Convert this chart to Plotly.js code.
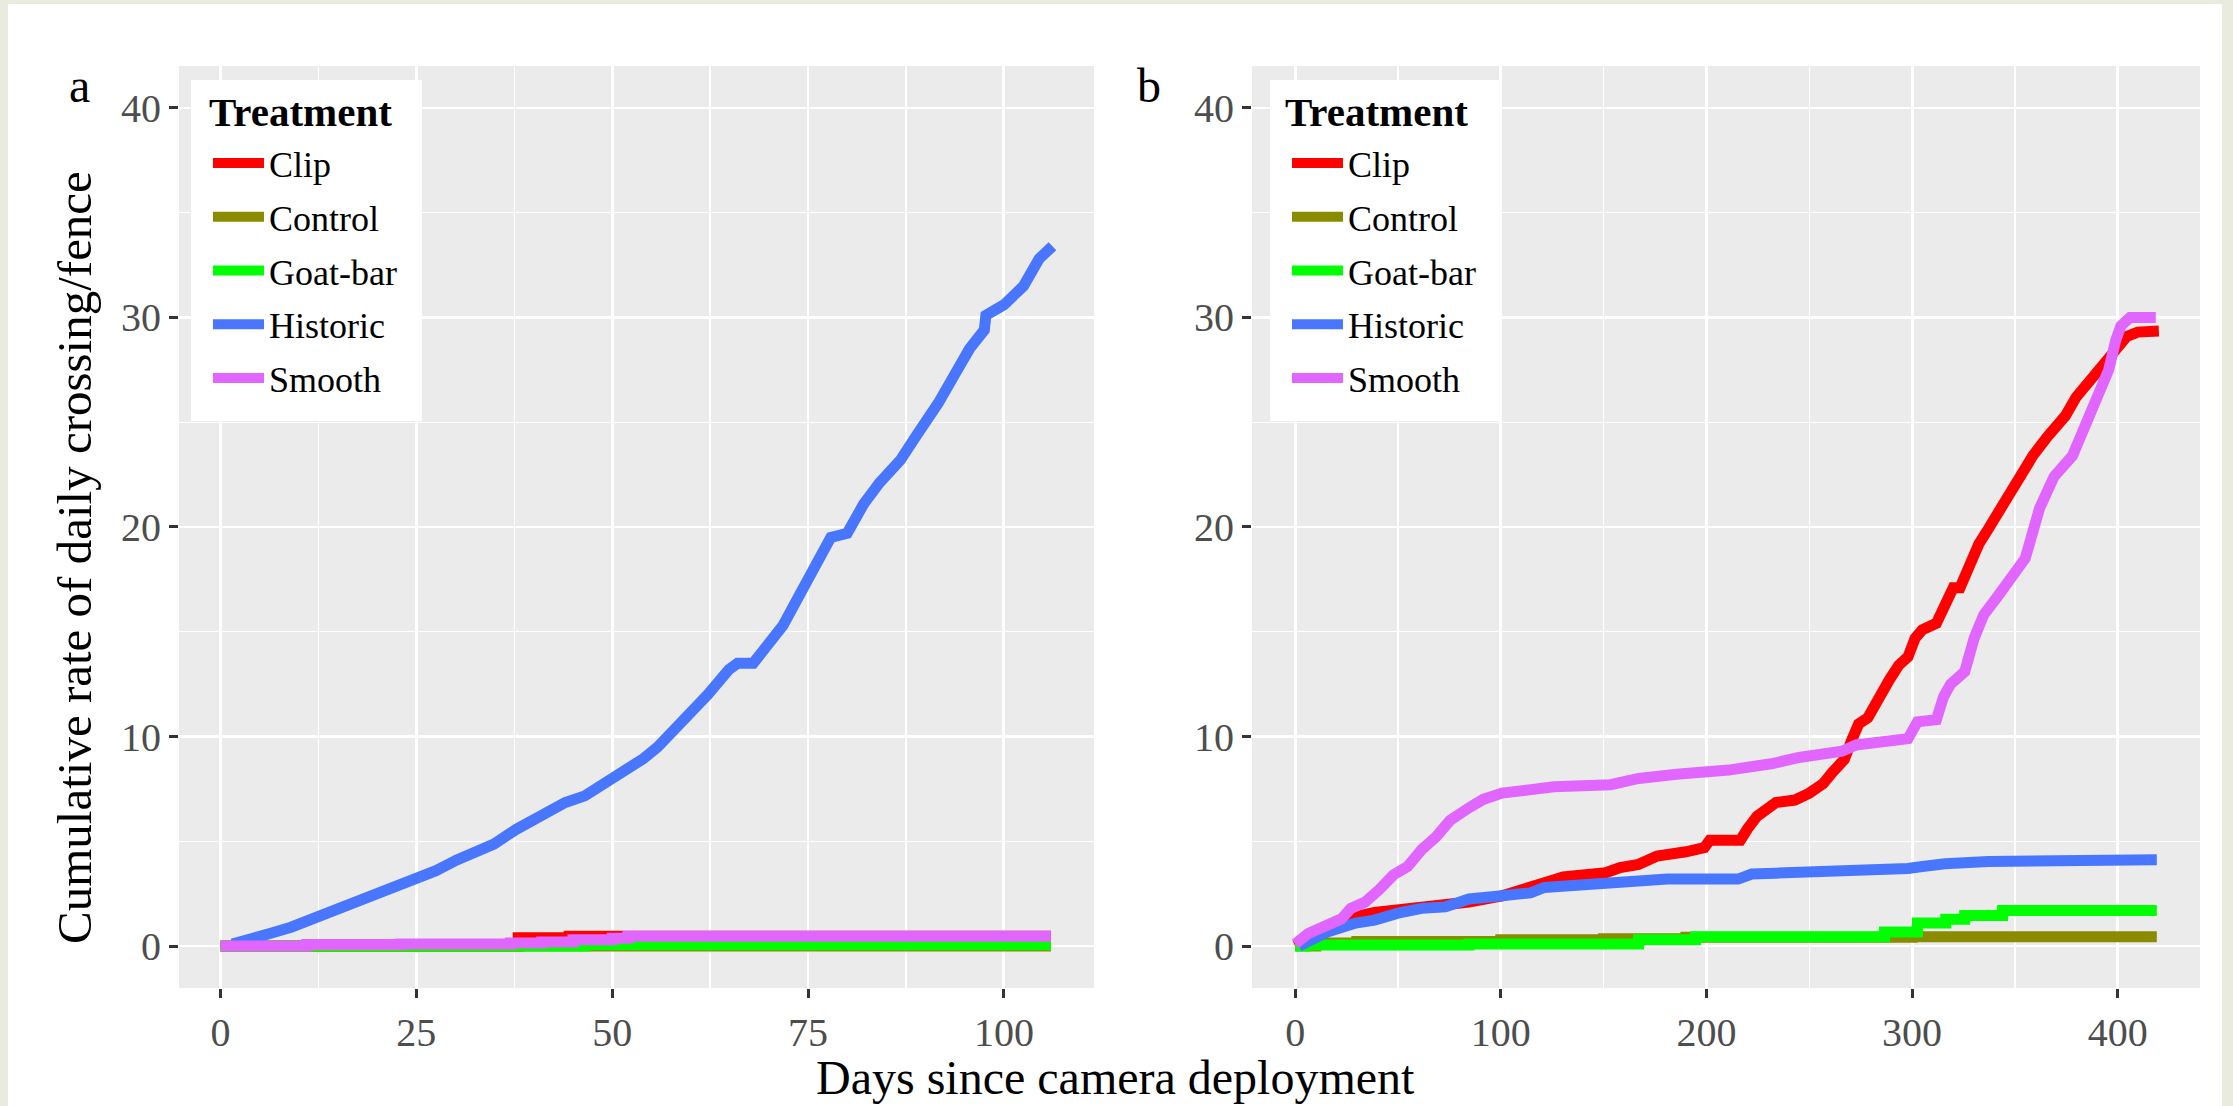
<!DOCTYPE html>
<html>
<head>
<meta charset="utf-8">
<script src="https://cdn.plot.ly/plotly-3.0.1.min.js"></script>
<style>
html,body{margin:0;padding:0;background:#e9ebdf;width:2233px;height:1106px;overflow:hidden}
#chart{position:absolute;left:8px;top:4px;width:2214px;height:1102px;background:#ffffff}
</style>
</head>
<body>
<div id="chart"></div>
<script>
// ---------- categories & colours ----------
const treatments = ['Clip', 'Control', 'Goat-bar', 'Historic', 'Smooth'];
const treatmentColors = ['#ff0000', '#8b8b00', '#00ff00', '#4876ff', '#e066ff'];
const legendTitle = 'Treatment';

// ---------- panel a (days 0-106) ----------
const aClipDays = [0, 38, 44.5, 106];
const aClipRate = [0, 0.4, 0.47, 0.47];
const aControlDays = [0, 106];
const aControlRate = [0, 0];
const aGoatDays = [0, 46.5, 106];
const aGoatRate = [0, 0.06, 0.06];
const aHistoricDays = [1.5, 4, 6.3, 9, 12.4, 15, 17.2, 20, 22.5, 25, 27.5, 30.1, 32.5, 34.9, 37.7, 39.8, 41.8, 44, 46.5, 48, 50, 52, 54, 55.8, 57.4, 59.5, 62.2, 64.9, 66, 68, 70.4, 71.8, 73.1, 75, 76.2, 77.9, 80, 81, 82.1, 84.1, 85.5, 86.8, 88.9, 90.2, 91.6, 93.6, 95.6, 97.5, 97.7, 100, 101.2, 102.5, 104.5, 105.9, 106.2];
const aHistoricRate = [0.1, 0.3, 0.6, 0.9, 1.4, 1.75, 2.07, 2.5, 2.8, 3.16, 3.6, 4.1, 4.5, 4.87, 5.56, 6.0, 6.48, 6.85, 7.17, 7.5, 8.06, 8.5, 8.95, 9.5, 10.1, 11.0, 12.0, 13.2, 13.5, 13.5, 14.6, 15.3, 16.2, 17.6, 18.5, 19.5, 19.7, 20.5, 21.1, 22.1, 22.7, 23.2, 24.4, 25.1, 25.9, 27.2, 28.5, 29.4, 30.1, 30.6, 31.0, 31.5, 32.8, 33.4, 33.4];
const aSmoothDays = [0, 11, 23, 37, 41, 45, 50, 52, 106];
const aSmoothRate = [0, 0.07, 0.1, 0.15, 0.2, 0.3, 0.38, 0.47, 0.47];

// ---------- panel b (days 0-420) ----------
const bClipDays = [0, 15.6, 27, 38.6, 57, 75.3, 84.5, 100.6, 116.6, 130.4, 151, 158, 167, 176, 190, 199, 201.6, 216.5, 220, 224.6, 233.8, 243, 250, 256.7, 261.3, 267, 270.5, 274, 278.5, 283, 288.9, 293.5, 298, 301.5, 305, 311.8, 316.4, 320, 323.3, 327.9, 332.5, 337, 344.5, 351.6, 358.7, 365.7, 374.5, 379.8, 386.8, 392, 397.4, 404.5, 409.7, 420];
const bClipRate = [0, 0.8, 1.35, 1.6, 1.8, 1.9, 2.1, 2.4, 2.9, 3.3, 3.5, 3.75, 3.9, 4.3, 4.5, 4.7, 5.05, 5.05, 5.6, 6.2, 6.85, 6.97, 7.3, 7.75, 8.3, 8.9, 9.8, 10.6, 10.9, 11.8, 12.7, 13.4, 13.8, 14.7, 15.1, 15.4, 16.4, 17.1, 17.1, 18.3, 19.2, 19.9, 21.2, 22.4, 23.4, 24.3, 25.3, 26.2, 27.0, 27.5, 28.2, 29.1, 29.3, 29.35];
const bControlDays = [0, 10, 30, 100, 150, 190, 300, 419];
const bControlRate = [0, 0.15, 0.22, 0.3, 0.35, 0.42, 0.45, 0.45];
const bGoatDays = [0, 5, 84.5, 167, 194.7, 286.6, 302.6, 316.4, 325.6, 344, 419];
const bGoatRate = [0, 0.05, 0.1, 0.3, 0.45, 0.67, 1.1, 1.28, 1.46, 1.7, 1.7];
const bHistoricDays = [1.8, 15.6, 29.4, 38.6, 50, 61.5, 73, 84.5, 100.6, 114.4, 121.2, 135, 153.4, 167, 181, 215.4, 222, 233.8, 261.3, 268, 298, 305, 316, 337, 360, 419];
const bHistoricRate = [0, 0.67, 1.1, 1.24, 1.57, 1.8, 1.87, 2.25, 2.4, 2.54, 2.8, 2.9, 2.97, 3.15, 3.2, 3.2, 3.44, 3.48, 3.53, 3.6, 3.7, 3.8, 3.93, 4.04, 4.08, 4.12];
const bSmoothDays = [0, 6.4, 15.6, 22.5, 27.1, 34, 40.9, 47.8, 54.7, 61.5, 68.4, 75.3, 84.5, 91.4, 100.6, 125.8, 153.4, 167, 185.5, 210.8, 231.5, 245, 265.9, 272.8, 298, 302.6, 311.8, 315.3, 318.7, 325.6, 330.2, 334.8, 341.7, 350.9, 355, 362, 369, 378, 383.5, 390, 395.6, 399, 401.5, 406, 418.5];
const bSmoothRate = [0.1, 0.6, 1.0, 1.3, 1.8, 2.1, 2.7, 3.4, 3.8, 4.6, 5.2, 6.0, 6.6, 7.0, 7.3, 7.6, 7.7, 8.0, 8.2, 8.4, 8.7, 9.0, 9.3, 9.6, 9.9, 10.7, 10.8, 11.9, 12.5, 13.1, 14.7, 15.8, 16.7, 17.9, 18.5, 20.9, 22.4, 23.4, 24.6, 26.3, 27.5, 28.9, 29.6, 30.0, 30.0];

// ---------- tick values ----------
const aTicks = [0, 25, 50, 75, 100];
const bTicks = [0, 100, 200, 300, 400];
const yTicks = [0, 10, 20, 30, 40];

// [days, rates, line shape]
const panelA = [[aClipDays, aClipRate, 'hv'], [aControlDays, aControlRate, 'hv'], [aGoatDays, aGoatRate, 'hv'], [aHistoricDays, aHistoricRate, 'linear'], [aSmoothDays, aSmoothRate, 'hv']];
const panelB = [[bClipDays, bClipRate, 'linear'], [bControlDays, bControlRate, 'hv'], [bGoatDays, bGoatRate, 'hv'], [bHistoricDays, bHistoricRate, 'linear'], [bSmoothDays, bSmoothRate, 'linear']];

const FONT = 'Liberation Serif, Times New Roman, serif';
const traces = [];
function addPanel(series, xa, ya, leg) {
  series.forEach(function (s, i) {
    traces.push({
      type: 'scatter', mode: 'lines',
      x: s[0], y: s[1],
      name: treatments[i],
      legend: leg,
      legendgroup: treatments[i],
      line: {color: treatmentColors[i], width: 11, shape: s[2]},
      xaxis: xa, yaxis: ya,
      hoverinfo: 'skip'
    });
  });
}
addPanel(panelA, 'x', 'y', 'legend');
addPanel(panelB, 'x2', 'y2', 'legend2');

function xAxis(domain, range, ticks, minorStep, anchor) {
  return {
    domain: domain, range: range, anchor: anchor,
    tickmode: 'array', tickvals: ticks, ticktext: ticks.map(String),
    ticks: 'outside', ticklen: 9, tickwidth: 3, tickcolor: '#333333',
    tickfont: {family: FONT, size: 40, color: '#4d4d4d'},
    showgrid: true, gridcolor: '#ffffff', gridwidth: 2.8,
    minor: {dtick: minorStep, tick0: 0, showgrid: true, gridcolor: '#ffffff', gridwidth: 1.4, ticks: ''},
    zeroline: false, showline: false, fixedrange: true
  };
}
function yAxis(anchor) {
  return {
    domain: [0.10708, 0.94374], range: [-2, 42], anchor: anchor,
    tickmode: 'array', tickvals: yTicks, ticktext: yTicks.map(String),
    ticks: 'outside', ticklen: 9, tickwidth: 3, tickcolor: '#333333',
    tickfont: {family: FONT, size: 40, color: '#4d4d4d'},
    showgrid: true, gridcolor: '#ffffff', gridwidth: 2.8,
    minor: {dtick: 5, tick0: 0, showgrid: true, gridcolor: '#ffffff', gridwidth: 1.4, ticks: ''},
    zeroline: false, showline: false, fixedrange: true
  };
}
// legend items (white box is drawn as a shape behind)
function legendBox(x) {
  return {
    x: x, y: 0.88294, xanchor: 'left', yanchor: 'top',
    bgcolor: 'rgba(0,0,0,0)', borderwidth: 0,
    font: {family: FONT, size: 36, color: '#000000'},
    traceorder: 'grouped', tracegroupgap: 4, itemwidth: 51
  };
}
function whiteBox(x0, x1) {
  return {type: 'rect', xref: 'paper', yref: 'paper', x0: x0, x1: x1, y0: 0.62160, y1: 0.93103,
          fillcolor: '#ffffff', line: {width: 0}, layer: 'above'};
}
function titleNote(x) {
  return {text: '<b>' + legendTitle + '</b>', xref: 'paper', yref: 'paper', x: x, y: 0.90200,
          xanchor: 'left', yanchor: 'middle', showarrow: false,
          font: {family: FONT, size: 41, color: '#000000'}};
}

const layout = {
  width: 2214, height: 1102,
  margin: {l: 0, r: 0, t: 0, b: 0, pad: 0},
  paper_bgcolor: '#ffffff', plot_bgcolor: '#ebebeb',
  font: {family: FONT, color: '#000000'},
  showlegend: true,
  xaxis: xAxis([0.07724, 0.49051], [-5.3, 111.5], aTicks, 12.5, 'y'),
  yaxis: yAxis('x'),
  xaxis2: xAxis([0.56188, 0.99006], [-21, 440], bTicks, 50, 'y2'),
  yaxis2: yAxis('x2'),
  legend: legendBox(0.09033),
  legend2: legendBox(0.57768),
  shapes: [whiteBox(0.08266, 0.18699), whiteBox(0.57001, 0.67435)],
  annotations: [
    titleNote(0.08979),
    titleNote(0.57588),
    {text: 'a', xref: 'paper', yref: 'paper', x: 0.03207, y: 0.9256, xanchor: 'center', yanchor: 'middle', showarrow: false, font: {family: FONT, size: 48, color: '#000000'}},
    {text: 'b', xref: 'paper', yref: 'paper', x: 0.51536, y: 0.9256, xanchor: 'center', yanchor: 'middle', showarrow: false, font: {family: FONT, size: 48, color: '#000000'}},
    {text: 'Cumulative rate of daily crossing/fence', xref: 'paper', yref: 'paper', x: 0.03026, y: 0.4982, xanchor: 'center', yanchor: 'middle', textangle: -90, showarrow: false, font: {family: FONT, size: 49, color: '#000000'}},
    {text: 'Days since camera deployment', xref: 'paper', yref: 'paper', x: 0.5, y: 0.02586, xanchor: 'center', yanchor: 'middle', showarrow: false, font: {family: FONT, size: 48, color: '#000000'}}
  ]
};

Plotly.newPlot('chart', traces, layout, {displayModeBar: false, staticPlot: true});
</script>
</body>
</html>
